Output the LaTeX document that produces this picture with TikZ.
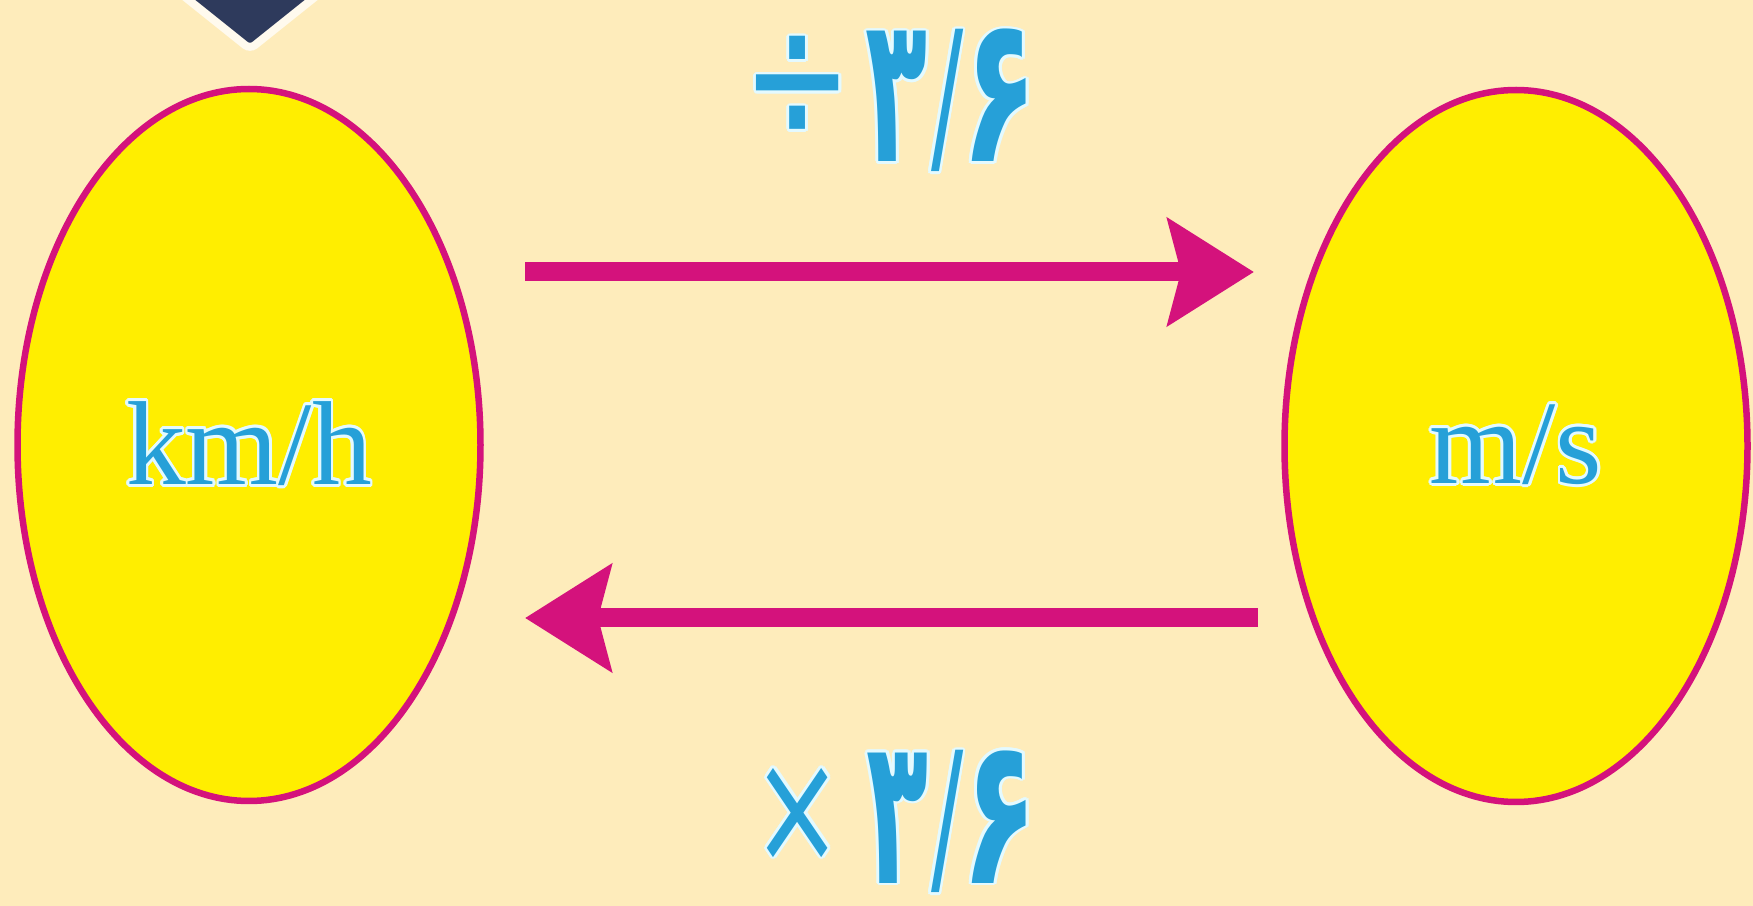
\documentclass[tikz,border=0pt]{standalone}
\usepackage{fontspec}
\setmainfont{Liberation Serif}
\newfontfamily\arabicfont[Script=Arabic]{DejaVu Sans}
\usepackage{contour}
\contourlength{0.8pt}
\usetikzlibrary{shapes.geometric,arrows.meta}
\definecolor{bg}{RGB}{254,236,187}
\definecolor{ovalfill}{RGB}{255,238,0}
\definecolor{pinkline}{RGB}{212,18,124}
\definecolor{txtblue}{RGB}{38,160,216}
\definecolor{navy}{RGB}{46,58,92}
\definecolor{halo}{RGB}{228,250,255}
\newcommand{\mydg}[1]{\scalebox{1.05}[1.72]{\bfseries #1}}
\newcommand{\mythree}{\makebox[5.4mm]{\scalebox{0.85}[1.72]{\bfseries ۳}}}
\newcommand{\myslash}{\raisebox{0.6mm}{\scalebox{0.8}[1.45]{/}}}
\tikzset{
  oval/.style={ellipse, draw=pinkline, fill=ovalfill, line width=0.65mm, inner sep=0pt,
    minimum width=46.3mm, minimum height=71.2mm},
  unit/.style={text=txtblue, font=\fontsize{34}{40}\selectfont},
  conv/.style={draw=pinkline, line width=1.9mm,
    -{Stealth[length=8.6mm,width=10.6mm,inset=1.3mm]}},
  lbl/.style={text=txtblue, font=\arabicfont\fontsize{34}{40}\selectfont, inner sep=0pt, anchor=base west}
}
\begin{document}
\begin{tikzpicture}[x=0.1mm,y=-0.1mm]
\fill[bg] (0,0) rectangle (1753,906);
\useasboundingbox (0,0) rectangle (1753,906);
\begin{scope}
\clip (0,0) rectangle (1753,906);
\draw[draw=white!75!bg, line width=0.8mm, fill=navy, rounded corners=0.6mm]
  (155,-27) -- (250,49) -- (345,-27) -- (250,-105) -- cycle;
\end{scope}
\node[oval] (kmh) at (249,445) {};
\node[oval] (ms) at (1516,446) {};
\node[unit] (kmhtxt) at (kmh.center) {\contour{halo}{km/h}};
\node[unit] (mstxt) at (ms.center) {\contour{halo}{m/s}};
\coordinate (t1s) at (525,272);
\coordinate (t1e) at (1254,272);
\coordinate (b1s) at (1258,618);
\coordinate (b1e) at (525,618);
\draw[conv] (t1s) -- (t1e);
\draw[conv] (b1s) -- (b1e);
\node[lbl] (divlbl) at (757,162) {\contour{halo}{\makebox[8mm]{\raisebox{1.8mm}{\scalebox{1.1}[1.62]{÷}}}\hspace{3.2mm}\mythree\hspace{0.7mm}\makebox[3.3mm]{\myslash}\hspace{1mm}\makebox[5.2mm]{\mydg{۶}}}};
\node[lbl] (mullbl) at (767,883) {\contour{halo}{\makebox[6mm]{\raisebox{2.1mm}{\scalebox{0.9}[1.32]{×}}}\hspace{4.3mm}\mythree\hspace{0.6mm}\makebox[3.3mm]{\myslash}\hspace{1mm}\makebox[5.2mm]{\mydg{۶}}}};
\end{tikzpicture}
\end{document}
